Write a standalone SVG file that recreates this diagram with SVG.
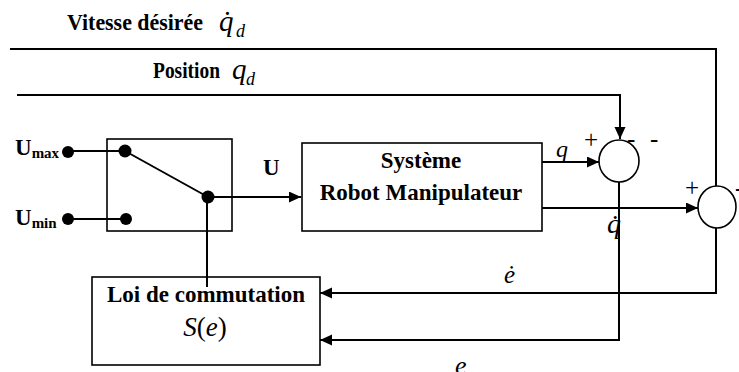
<svg xmlns="http://www.w3.org/2000/svg" width="739" height="372" viewBox="0 0 739 372">
<defs>
<marker id="arr" markerUnits="userSpaceOnUse" markerWidth="13" markerHeight="12" refX="12" refY="5.5" orient="auto">
<path d="M0,0 L12,5.5 L0,11 z" fill="#000"/>
</marker>
<style>
.b{font-family:"Liberation Serif","Times New Roman",serif;font-weight:bold;fill:#000}
.i{font-family:"Liberation Serif","Times New Roman",serif;font-style:italic;fill:#000}
.r{font-family:"Liberation Serif","Times New Roman",serif;fill:#000}
.box{fill:none;stroke:#000;stroke-width:1.6}
.c{fill:none;stroke:#000;stroke-width:2}
.a{fill:none;stroke:#000;stroke-width:2;marker-end:url(#arr)}
.dot{fill:#000}
.sum{fill:none;stroke:#000;stroke-width:1.6}
</style>
</defs>
<rect width="739" height="372" fill="#fff"/>

<g id="umax">
<text class="b" x="15" y="155" font-size="23">U<tspan font-size="15" dy="3">max</tspan></text>
<circle class="dot" cx="68" cy="152" r="6"/>
</g>
<g id="umin">
<text class="b" x="15" y="225" font-size="23">U<tspan font-size="15" dy="3">min</tspan></text>
<circle class="dot" cx="68" cy="219" r="6"/>
</g>

<g id="switch">
<rect class="box" x="107" y="139" width="125" height="92"/>
<circle class="dot" cx="125" cy="151" r="6.5"/>
<circle class="dot" cx="126" cy="219" r="6"/>
<circle class="dot" cx="208" cy="197" r="6.5"/>
</g>

<g id="systeme">
<rect class="box" x="302" y="143" width="240" height="88"/>
<text class="b" x="421" y="168" font-size="23" text-anchor="middle">Système</text>
<text class="b" x="421" y="200" font-size="23" text-anchor="middle">Robot Manipulateur</text>
</g>

<g id="loi">
<rect class="box" x="92" y="277" width="228" height="88"/>
<text class="b" x="206" y="302" font-size="23" text-anchor="middle">Loi de commutation</text>
<text class="i" x="205" y="336" font-size="27" text-anchor="middle">S<tspan font-style="normal">(</tspan>e<tspan font-style="normal">)</tspan></text>
</g>

<g id="sum1">
<ellipse class="sum" cx="619" cy="161" rx="20" ry="21"/>
</g>
<g id="sum2">
<ellipse class="sum" cx="717" cy="207" rx="19" ry="21"/>
</g>

<g id="connectors">
<polyline class="c" points="10,49 716,49 716,186"/>
<polyline class="a" points="17,95 620,95 620,139"/>
<line class="c" x1="68" y1="151" x2="125" y2="151"/>
<line class="c" x1="68" y1="219" x2="126" y2="219"/>
<line class="c" x1="125" y1="151" x2="208" y2="197"/>
<line class="a" x1="208" y1="197" x2="301" y2="197"/>
<line class="c" x1="207" y1="197" x2="207" y2="287"/>
<line class="a" x1="542" y1="162" x2="599" y2="162"/>
<line class="a" x1="542" y1="208" x2="698" y2="208"/>
<polyline class="a" points="619,182 619,340 320,340"/>
<polyline class="a" points="716,228 716,293 320,293"/>
</g>

<g id="labels">
<text class="b" x="67" y="30" font-size="23" textLength="136" lengthAdjust="spacingAndGlyphs">Vitesse désirée</text>
<text class="i" x="219" y="31" font-size="29">q̇</text>
<text class="i" x="236" y="37" font-size="18">d</text>
<text class="b" x="153" y="78" font-size="23" textLength="67" lengthAdjust="spacingAndGlyphs">Position</text>
<text class="i" x="232" y="79" font-size="29">q</text>
<text class="i" x="246" y="85" font-size="18">d</text>
<text class="b" x="263" y="175" font-size="23">U</text>
<text class="i" x="556" y="157" font-size="24">q</text>
<text class="i" x="607" y="233" font-size="28">q̇</text>
<text class="i" x="504" y="283" font-size="25">ė</text>
<text class="i" x="455" y="374" font-size="26">e</text>
<text class="r" x="584" y="148" font-size="25">+</text>
<text class="r" x="627" y="147" font-size="25">-</text>
<text class="r" x="650" y="147" font-size="25">-</text>
<text class="r" x="685" y="196" font-size="25">+</text>
<text class="r" x="735" y="196" font-size="25">-</text>
</g>
</svg>
